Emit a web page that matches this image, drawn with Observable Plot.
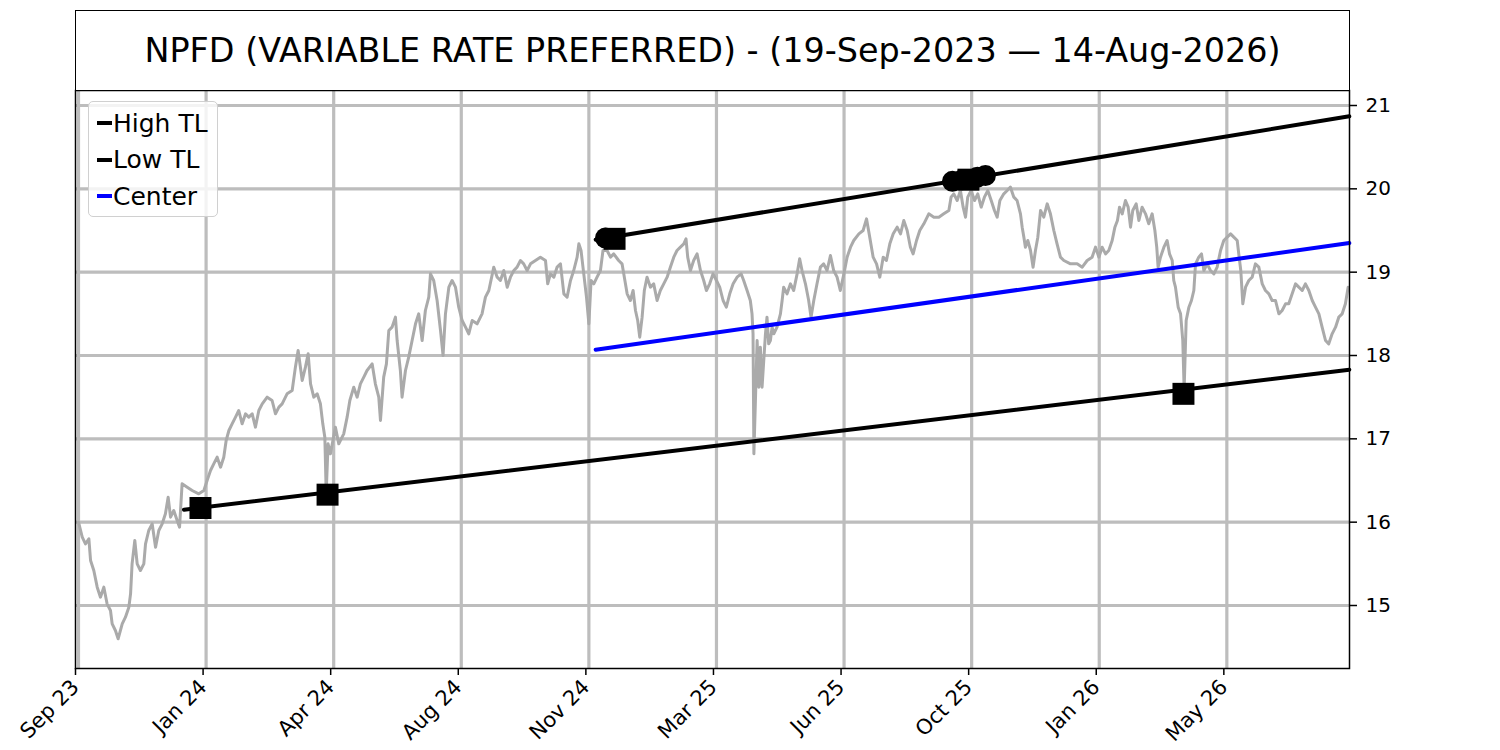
<!DOCTYPE html>
<html><head><meta charset="utf-8">
<script src="https://cdn.jsdelivr.net/npm/d3@7"></script>
<script src="https://cdn.jsdelivr.net/npm/@observablehq/plot@0.6"></script>
<style>
body{margin:0;background:#fff;font-family:"DejaVu Sans",sans-serif;}
#wrap{position:relative;width:1500px;height:750px;overflow:hidden;}
#title{position:absolute;left:75px;top:10px;width:1275px;height:81px;border:1.5px solid #000;box-sizing:border-box;display:flex;align-items:center;justify-content:center;font-size:33.4px;color:#000;background:#fff;}
#legend{position:absolute;left:88px;top:101px;width:130px;height:116px;box-sizing:border-box;border:1.5px solid #d0d0d0;border-radius:5px;background:rgba(255,255,255,0.82);}
.row{position:absolute;left:0;height:30px;display:flex;align-items:center;font-size:25px;color:#000;white-space:nowrap;}
.h{display:inline-block;width:15px;height:4px;margin-left:8px;margin-right:1px;}
</style></head>
<body>
<div id="wrap">
<div id="chart"></div>
<div id="title"></div>
<div id="legend"></div>
</div>
<script>
const titleText = "NPFD (VARIABLE RATE PREFERRED) - (19-Sep-2023 — 14-Aug-2026)";
const xTicks = [0, 75, 150, 225, 300, 375, 450, 525, 600, 675];
const xLabels = ["Sep 23","Jan 24","Apr 24","Aug 24","Nov 24","Mar 25","Jun 25","Oct 25","Jan 26","May 26"];
const yTicks = [15, 16, 17, 18, 19, 20, 21];

// closing price by trading-day index
const priceA = [[0,16.00],[2.2,15.82],[4.1,15.74],[6.1,15.80],[7.1,15.54],[9.0,15.42],[11.0,15.22],[12.9,15.10],[14.9,15.22],[16.8,15.02],[18.8,14.94],[19.8,14.78],[21.7,14.70],[23.3,14.60],[25.7,14.78],[27.6,14.86],[29.6,14.98],[30.6,15.14],[31.5,15.50],[33.1,15.78],[34.5,15.50],[36.4,15.42],[38.4,15.50],[39.4,15.74],[41.3,15.90],[43.3,15.98],[45.3,15.70],[47.2,15.90],[49.2,15.98],[51.1,16.10],[52.7,16.30],[54.1,16.06],[56.0,16.14],[58.0,16.02],[59.4,15.94],[60.9,16.46],[63.9,16.42],[66.8,16.38],[70.7,16.34],[73.7,16.38],[75.6,16.50],[77.6,16.62],[79.5,16.70],[81.5,16.78],[83.5,16.66],[85.4,16.78],[86.8,16.98],[88.4,17.10],[90.3,17.18],[92.3,17.26],[94.2,17.34],[96.2,17.18],[98.2,17.30],[100.1,17.26],[102.1,17.30],[104.0,17.14],[106.0,17.34],[108.0,17.42],[110.9,17.50],[113.8,17.46],[115.8,17.30],[117.8,17.38],[119.7,17.42],[122.6,17.54],[125.6,17.58],[127.5,17.86],[129.1,18.06],[131.5,17.70],[133.4,17.86],[135.0,18.02],[136.4,17.66],[138.3,17.50],[140.3,17.54],[142.2,17.42],[143.6,17.18],[144.8,17.02],[145.6,16.35],[146.7,16.94]];
const priceB = [[148.1,16.82],[151.0,17.14],[153.0,16.94],[155.9,17.06],[157.9,17.26],[159.5,17.46],[161.8,17.62],[163.8,17.50],[165.7,17.66],[167.7,17.74],[169.6,17.82],[172.6,17.90],[174.5,17.66],[176.5,17.50],[177.5,17.22],[179.4,17.74],[181.0,17.90],[182.4,18.30],[184.3,18.34],[186.3,18.46],[187.3,18.18],[189.2,17.82],[190.2,17.50],[192.2,17.82],[194.1,17.98],[196.1,18.18],[198.1,18.38],[200.0,18.50],[202.0,18.18],[203.9,18.54],[205.9,18.70],[206.9,18.98],[208.8,18.90],[210.8,18.66],[212.8,18.30],[214.3,18.00],[215.7,18.50],[217.7,18.82],[219.6,18.90],[221.6,18.82],[223.5,18.58],[225.5,18.42],[227.5,18.34],[229.4,18.26],[231.4,18.42],[234.3,18.38],[237.2,18.50],[239.2,18.70],[241.2,18.78],[244.1,19.06],[246.1,18.94],[248.0,18.90],[250.0,19.02],[252.0,18.82],[253.9,18.94],[255.9,19.02],[257.8,19.06],[259.8,19.14],[261.7,19.10],[263.7,19.02],[265.7,19.10],[268.6,19.14],[271.5,19.18],[274.5,19.14],[275.8,18.86],[277.4,18.98],[279.4,18.94],[281.3,19.06],[283.3,19.10],[285.3,18.74],[287.2,18.70],[289.2,18.90],[291.1,19.02],[293.1,19.18],[294.1,19.34],[295.4,19.26],[297.0,18.98],[298.6,18.70],[300.0,18.38],[301.3,18.90]];
const priceC = [[302.9,18.86],[304.8,18.94],[306.8,19.02],[308.3,19.26],[310.7,19.26],[312.7,19.18],[314.6,19.22],[317.5,19.14],[319.5,19.10],[320.5,18.98],[322.5,18.74],[324.4,18.66],[326.0,18.78],[327.4,18.54],[328.7,18.42],[329.9,18.22],[331.3,18.46],[332.6,18.78],[334.2,18.94],[336.2,18.82],[338.1,18.86],[340.1,18.66],[342.0,18.78],[344.0,18.86],[346.0,18.94],[347.9,19.06],[349.9,19.18],[351.8,19.26],[353.8,19.30],[355.8,19.34],[357.1,19.40],[358.1,19.18],[359.7,19.02],[361.6,19.14],[363.6,19.22],[365.6,19.02],[367.5,18.90],[369.1,18.78],[371.0,18.86],[373.0,18.98],[375.0,18.90],[376.9,18.82],[378.9,18.66],[380.8,18.58],[382.8,18.74],[384.8,18.86],[387.1,18.94],[389.5,18.98],[391.0,18.90],[393.0,18.78],[394.9,18.66],[395.9,18.50],[396.5,18.26],[397.0,16.82],[397.9,17.46],[398.9,18.18],[399.9,17.62],[400.8,18.10],[401.8,17.62],[402.8,17.94],[403.8,18.26],[404.7,18.46],[405.7,18.14],[406.7,18.18],[407.7,18.34],[408.7,18.26],[410.6,18.34],[412.6,18.50],[413.6,18.66],[414.5,18.82],[416.5,18.74],[418.5,18.86],[420.4,18.78],[422.4,18.98],[423.9,19.16],[425.3,19.02],[427.3,18.86],[429.2,18.66],[430.6,18.46],[432.2,18.66],[434.1,18.86],[436.1,19.06],[438.0,19.10],[440.0,19.02],[442.0,19.20],[443.9,19.02],[445.9,18.94],[447.8,18.78]];
const priceD = [[449.9,18.98],[451.8,19.18],[453.8,19.30],[455.7,19.38],[458.7,19.46],[461.2,19.50],[463.2,19.64],[465.1,19.42],[467.1,19.18],[469.1,19.10],[471.0,18.94],[473.0,19.18],[474.9,19.14],[476.9,19.34],[478.9,19.46],[481.2,19.54],[483.2,19.46],[485.1,19.62],[487.1,19.50],[489.0,19.30],[490.6,19.22],[492.6,19.38],[494.5,19.50],[496.9,19.58],[499.8,19.70],[502.8,19.66],[505.7,19.66],[508.6,19.70],[511.6,19.74],[512.9,19.90],[514.5,19.94],[516.5,19.86],[518.4,19.98],[520.0,19.78],[521.4,19.66],[522.7,19.90],[524.7,19.98],[526.7,19.86],[528.6,19.94],[530.6,19.78],[532.5,19.90],[534.5,19.98],[536.5,19.86],[538.4,19.74],[540.0,19.66],[541.6,19.86],[543.9,19.94],[545.9,19.98],[547.8,20.02],[549.8,19.90],[551.7,19.86],[553.7,19.70],[554.7,19.54],[555.7,19.42],[556.6,19.30],[558.0,19.38],[559.6,19.26],[561.1,19.06],[562.5,19.26],[563.9,19.42],[565.5,19.74],[567.4,19.66],[569.4,19.82],[571.3,19.70],[573.3,19.50],[575.2,19.34],[577.2,19.18],[579.2,19.14],[583.1,19.10],[587.0,19.10],[590.0,19.06],[592.9,19.14],[595.8,19.18]];
const priceE = [[597.8,19.30],[599.8,19.18],[601.7,19.30],[603.7,19.22],[605.6,19.26],[607.6,19.38],[609.2,19.54],[610.7,19.62],[611.9,19.78],[613.5,19.70],[615.4,19.86],[617.0,19.78],[618.4,19.54],[619.7,19.74],[621.7,19.82],[623.3,19.62],[625.2,19.78],[627.2,19.70],[629.1,19.58],[631.1,19.70],[632.7,19.50],[633.8,19.30],[634.6,19.06],[636.0,19.18],[638.0,19.30],[639.9,19.38],[641.3,19.22],[642.9,19.14],[643.8,18.90],[644.8,18.82],[646.4,18.58],[647.8,18.50],[649.1,18.18],[649.9,17.60],[651.1,18.42],[652.7,18.58],[654.2,18.66],[655.6,18.78],[656.6,19.10],[658.5,19.18],[660.1,19.22],[661.5,19.02],[663.4,19.10],[665.4,19.02],[667.4,18.98],[669.3,19.06],[671.3,19.26],[673.2,19.38],[675.2,19.42],[677.2,19.46],[679.1,19.42],[681.1,19.38],[682.0,19.22],[683.2,19.02],[684.4,18.62],[686.0,18.82],[687.9,18.90],[689.9,18.94],[691.8,19.10],[693.8,19.06],[695.8,18.86],[697.7,18.78],[699.7,18.74],[701.6,18.66],[703.6,18.66],[705.6,18.50],[707.5,18.54],[709.5,18.62],[711.4,18.62],[713.4,18.74],[715.4,18.86],[717.3,18.82],[719.3,18.78],[721.2,18.86],[723.2,18.78],[725.2,18.66],[727.1,18.58],[729.1,18.50],[731.0,18.34],[733.0,18.18],[734.9,18.14],[736.9,18.26],[738.9,18.34],[740.8,18.46],[742.8,18.50],[744.7,18.62],[746.3,18.82]];

// trend lines (start / end points)
const highTL = [[304, 19.39], [747, 20.87]];
const lowTL = [[62, 16.15], [747, 17.83]];
const centerTL = [[304, 18.07], [747, 19.35]];

// touch markers
const highCircles = [[309.8, 19.41], [513.7, 20.09], [519.6, 20.11], [528.4, 20.14], [533.1, 20.16]];
const highSquares = [[315.1, 19.40], [523.1, 20.11]];
const lowSquares = [[71.7, 16.17], [146.4, 16.33], [649.5, 17.54]];

const legendItems = [["High TL", "#000000"], ["Low TL", "#000000"], ["Center", "#0000ff"]];

const price = [...priceA, ...priceB, ...priceC, ...priceD, ...priceE];
const X = d => d[0], Y = d => d[1];
const gridStyle = {stroke: "#bdbdbd", strokeOpacity: 1, strokeWidth: 3.2};

const chart = Plot.plot({
  width: 1500, height: 750,
  marginLeft: 75, marginRight: 151, marginTop: 90, marginBottom: 82,
  x: {domain: [-1.76, 747.1]},
  y: {domain: [14.244, 21.18]},
  style: {fontFamily: "DejaVu Sans", fontSize: "20px", background: "transparent", color: "#000"},
  marks: [
    Plot.gridX(xTicks, gridStyle),
    Plot.gridY(yTicks, gridStyle),
    Plot.line(price, {x: X, y: Y, stroke: "#aaaaaa", strokeWidth: 3}),
    Plot.line(highTL, {x: X, y: Y, stroke: "#000", strokeWidth: 4}),
    Plot.line(lowTL, {x: X, y: Y, stroke: "#000", strokeWidth: 4}),
    Plot.line(centerTL, {x: X, y: Y, stroke: "#0000ff", strokeWidth: 4}),
    Plot.dot(lowSquares, {x: X, y: Y, symbol: "square", r: 12.4, fill: "#000"}),
    Plot.dot(highSquares, {x: X, y: Y, symbol: "square", r: 12.4, fill: "#000"}),
    Plot.dot(highCircles, {x: X, y: Y, r: 10.5, fill: "#000"}),
    Plot.frame({stroke: "#000", strokeWidth: 1.5}),
    Plot.axisY(yTicks, {anchor: "right", tickSize: 7, tickPadding: 9, strokeWidth: 1.5, fontSize: 20, tickFormat: d => String(d)}),
    Plot.axisX(xTicks, {anchor: "bottom", tickSize: 7, tickPadding: 8, strokeWidth: 1.5, fontSize: 21, dx: -3, tickRotate: -45, tickFormat: d => xLabels[xTicks.indexOf(d)]})
  ]
});
document.getElementById("chart").appendChild(chart);
document.getElementById("title").textContent = titleText;

const leg = document.getElementById("legend");
legendItems.forEach(([label, color], i) => {
  const row = document.createElement("div");
  row.className = "row";
  row.style.top = (6 + i * 36.5) + "px";
  const h = document.createElement("span");
  h.className = "h";
  h.style.background = color;
  row.appendChild(h);
  row.appendChild(document.createTextNode(label));
  leg.appendChild(row);
});
</script>
</body></html>
